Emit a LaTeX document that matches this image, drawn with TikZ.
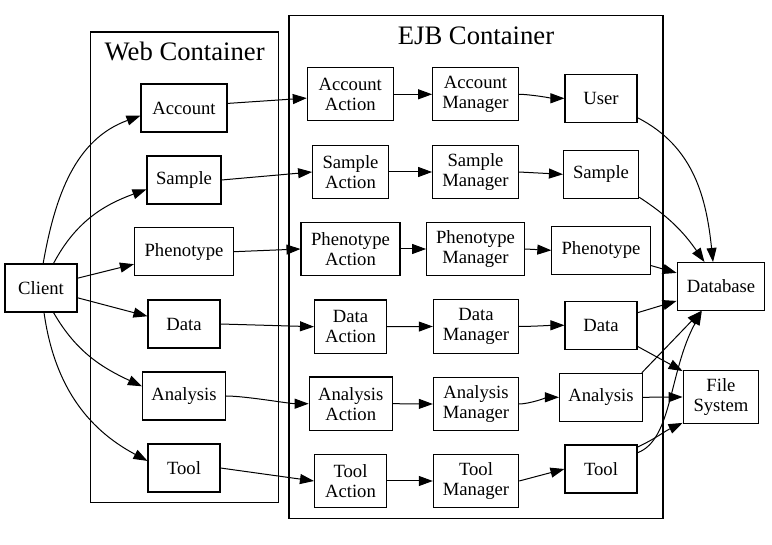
\documentclass[tikz,border=0pt]{standalone}
\usepackage{fontspec}
\setmainfont{Liberation Serif}
\usetikzlibrary{arrows.meta}
\tikzset{
  box/.style={draw, line width=0.8pt, inner sep=0pt, minimum height=36pt, align=center,
    font=\fontsize{14}{15}\selectfont},
  two/.style={minimum height=40pt},
  arr/.style={-{Triangle[length=10.5pt,width=7.5pt]}, line width=0.75pt},
  clus/.style={draw, line width=0.8pt},
  ctitle/.style={anchor=base, inner sep=0pt, font=\fontsize{20}{24}\selectfont}
}
\begin{document}
\begin{tikzpicture}[x=0.75pt,y=-0.75pt]
\useasboundingbox (0,0) rectangle (772,545);
% clusters
\draw[clus] (90.7,32) rectangle (278.7,502.3);
\node[ctitle] (webt) at (184.7,61) {Web Container};
\draw[clus] (289,15.7) rectangle (663,518.3);
\node[ctitle] (ejbt) at (476,45) {EJB Container};
% client
\node[box, minimum width=54pt] (client) at (41,288) {Client};
% web
\node[box, minimum width=64.5pt] (account) at (184,108) {Account};
\node[box, minimum width=55.5pt] (sample) at (184,180) {Sample};
\node[box, minimum width=74.25pt] (phenotype) at (184,251.7) {Phenotype};
\node[box, minimum width=54pt] (data) at (184,324) {Data};
\node[box, minimum width=62.25pt] (analysis) at (184,396) {Analysis};
\node[box, minimum width=54pt] (tool) at (184,468) {Tool};
% actions
\node[box, two, minimum width=64.5pt] (aa) at (350.3,94.3) {Account\\Action};
\node[box, two, minimum width=56.8pt] (sa) at (350.5,172) {Sample\\Action};
\node[box, two, minimum width=74.25pt] (pa) at (350.5,249) {Phenotype\\Action};
\node[box, two, minimum width=54pt] (da) at (350.5,326.7) {Data\\Action};
\node[box, two, minimum width=62.25pt] (ana) at (350.7,403.7) {Analysis\\Action};
\node[box, two, minimum width=54pt] (ta) at (350.5,481) {Tool\\Action};
% managers
\node[box, two, minimum width=64.3pt] (am) at (475.5,94.3) {Account\\Manager};
\node[box, two, minimum width=64.3pt] (sm) at (475.5,172) {Sample\\Manager};
\node[box, two, minimum width=73.3pt] (pm) at (475.5,249) {Phenotype\\Manager};
\node[box, two, minimum width=64pt] (dm) at (476,326.5) {Data\\Manager};
\node[box, two, minimum width=64pt] (anm) at (476,404) {Analysis\\Manager};
\node[box, two, minimum width=64pt] (tm) at (476,481) {Tool\\Manager};
% entities
\node[box, minimum width=54pt] (user) at (601,98.3) {User};
\node[box, minimum width=56.3pt] (sament) at (601,174.3) {Sample};
\node[box, minimum width=73.7pt] (phent) at (601,250.3) {Phenotype};
\node[box, minimum width=54pt] (dent) at (601,325.3) {Data};
\node[box, minimum width=62.25pt] (anent) at (601,397.3) {Analysis};
\node[box, minimum width=54pt] (tent) at (601,469) {Tool};
% storage
\node[box, minimum width=65.8pt] (db) at (721,286.5) {Database};
\node[box, two, minimum width=56.8pt] (fs) at (721,397) {File\\System};
% client edges
\draw[arr] (client.85) to[out=80, in=200] (account.190);
\draw[arr] (client.63) to[out=62, in=200] (sample.194);
\draw[arr] (client.15) -- (phenotype.194);
\draw[arr] (client.-15) -- (data.168);
\draw[arr] (client.-63) to[out=-60, in=155] (analysis.167);
\draw[arr] (client.-83) to[out=-82, in=152] (tool.169);
% web -> action
\draw[arr] (account.6) -- (aa.185);
\draw[arr] (sample.east) -- (sa.west);
\draw[arr] (phenotype.east) -- (pa.west);
\draw[arr] (data.east) -- (da.west);
\draw[arr] (analysis.east) to[out=0, in=180, looseness=0.6] (ana.west);
\draw[arr] (tool.east) -- (ta.west);
% action -> manager
\draw[arr] (aa.east) -- (am.west);
\draw[arr] (sa.east) -- (sm.west);
\draw[arr] (pa.east) -- (pm.west);
\draw[arr] (da.east) -- (dm.west);
\draw[arr] (ana.east) -- (anm.west);
\draw[arr] (ta.east) -- (tm.west);
% manager -> entity
\draw[arr] (am.east) to[out=0, in=180, looseness=0.6] (user.west);
\draw[arr] (sm.east) -- (sament.west);
\draw[arr] (pm.east) -- (phent.west);
\draw[arr] (dm.east) to[out=0, in=180, looseness=0.6] (dent.west);
\draw[arr] (anm.east) to[out=0, in=180, looseness=0.6] (anent.west);
\draw[arr] (tm.east) -- (tent.west);
% entity -> storage
\draw[arr] (user.-28) to[out=-27, in=96] (db.108);
\draw[arr] (sament.-31) to[out=-33, in=125] (db.124);
\draw[arr] (phent.-17) -- (db.163);
\draw[arr] (dent.19) -- (db.198);
\draw[arr] (dent.-30) -- (fs.146);
\draw[arr] (anent.31) -- (db.231);
\draw[arr] (anent.east) -- (fs.west);
\draw[arr] (tent.31) to[out=25, in=205] (fs.214);
\draw[arr] (tent.24) .. controls +(35,-13) and +(-33,60) .. (db.232);
\end{tikzpicture}
\end{document}
